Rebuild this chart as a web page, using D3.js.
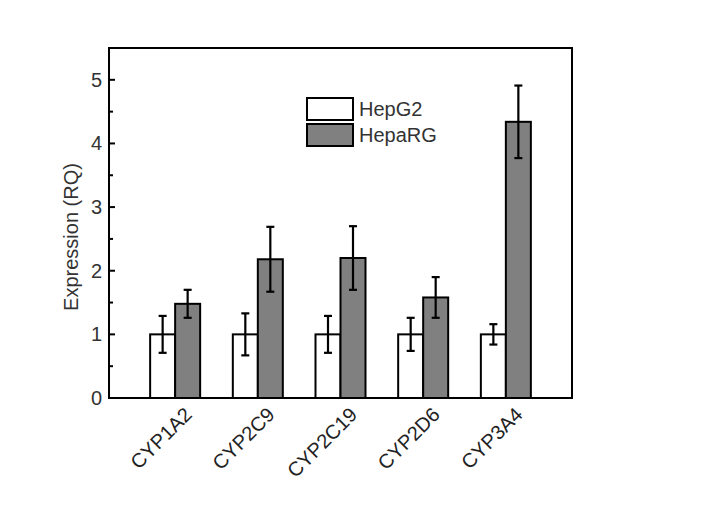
<!DOCTYPE html>
<html><head><meta charset="utf-8">
<script src="https://cdn.jsdelivr.net/npm/d3@7"></script>
<style>body{margin:0;background:#fff;font-family:"Liberation Sans",Arial,sans-serif;}</style>
</head><body><svg id="c" width="707" height="512"></svg>
<script>
const categories = ["CYP1A2","CYP2C9","CYP2C19","CYP2D6","CYP3A4"];
const seriesNames = ["HepG2","HepaRG"];
const hepG2 = [1.0, 1.0, 1.0, 1.0, 1.0];
const hepG2Err = [0.29, 0.33, 0.29, 0.26, 0.16];
const hepaRG = [1.48, 2.18, 2.20, 1.58, 4.34];
const hepaRGErr = [0.22, 0.51, 0.50, 0.32, 0.57];
const yTicks = [0,1,2,3,4,5];
const colors = ["#ffffff","#808080"];

const svg = d3.select("#c");
const L=109, R=572, T=48, B=398;
const x = d3.scalePoint().domain(categories).range([L,R]).padding(0.8);
const y = d3.scaleLinear().domain([0,5.5]).range([B,T]);
const bw = 25;
const series = [hepG2, hepaRG];
const errs = [hepG2Err, hepaRGErr];

series.forEach((vals,si)=>{
  const g = svg.append("g");
  g.selectAll("rect").data(categories).join("rect")
    .attr("x", c => si===0 ? x(c)-bw : x(c))
    .attr("y", (c,i)=>y(vals[i]))
    .attr("width", bw)
    .attr("height", (c,i)=>B - y(vals[i]))
    .attr("fill", colors[si]).attr("stroke","#000").attr("stroke-width",2);
  const e = svg.append("g").attr("stroke","#000").attr("stroke-width",2.2);
  categories.forEach((c,i)=>{
    const cx = si===0 ? x(c)-bw/2 : x(c)+bw/2;
    const hi = y(vals[i]+errs[si][i]), lo = y(vals[i]-errs[si][i]);
    e.append("line").attr("x1",cx).attr("x2",cx).attr("y1",hi).attr("y2",lo);
    e.append("line").attr("x1",cx-4).attr("x2",cx+4).attr("y1",hi).attr("y2",hi);
    e.append("line").attr("x1",cx-4).attr("x2",cx+4).attr("y1",lo).attr("y2",lo);
  });
});

// frame
svg.append("rect").attr("x",L).attr("y",T).attr("width",R-L).attr("height",B-T)
  .attr("fill","none").attr("stroke","#000").attr("stroke-width",2);

// y axis ticks (inside)
const ax = svg.append("g");
d3.range(0,5.51,0.5).forEach(v=>{
  const major = Math.abs(v-Math.round(v))<1e-6;
  ax.append("line").attr("x1",L).attr("x2",L+(major?6:4)).attr("y1",y(v)).attr("y2",y(v))
    .attr("stroke","#000").attr("stroke-width",2);
});
svg.append("g").selectAll("text").data(yTicks).join("text")
  .attr("x",L-7).attr("y",d=>y(d)).attr("dy","0.35em")
  .attr("text-anchor","end").attr("font-size",20).attr("fill","#333").text(d=>d);

// x labels
svg.append("g").selectAll("text").data(categories).join("text")
  .attr("transform",c=>`translate(${x(c)+13},${B+13}) rotate(-45)`)
  .attr("text-anchor","end").attr("dy","0.35em").attr("font-size",20).attr("fill","#222").text(c=>c);

// y label
svg.append("text").attr("transform",`translate(${78},${237}) rotate(-90)`)
  .attr("text-anchor","middle").attr("font-size",20).attr("fill","#333").text("Expression (RQ)");

// legend
const lg = svg.append("g");
seriesNames.forEach((n,i)=>{
  const yy = 98 + i*26;
  lg.append("rect").attr("x",307).attr("y",yy).attr("width",46).attr("height",22)
    .attr("fill",colors[i]).attr("stroke","#000").attr("stroke-width",2);
  lg.append("text").attr("x",359).attr("y",yy+11).attr("dy","0.35em")
    .attr("font-size",20).attr("fill","#333").text(n);
});
</script></body></html>
